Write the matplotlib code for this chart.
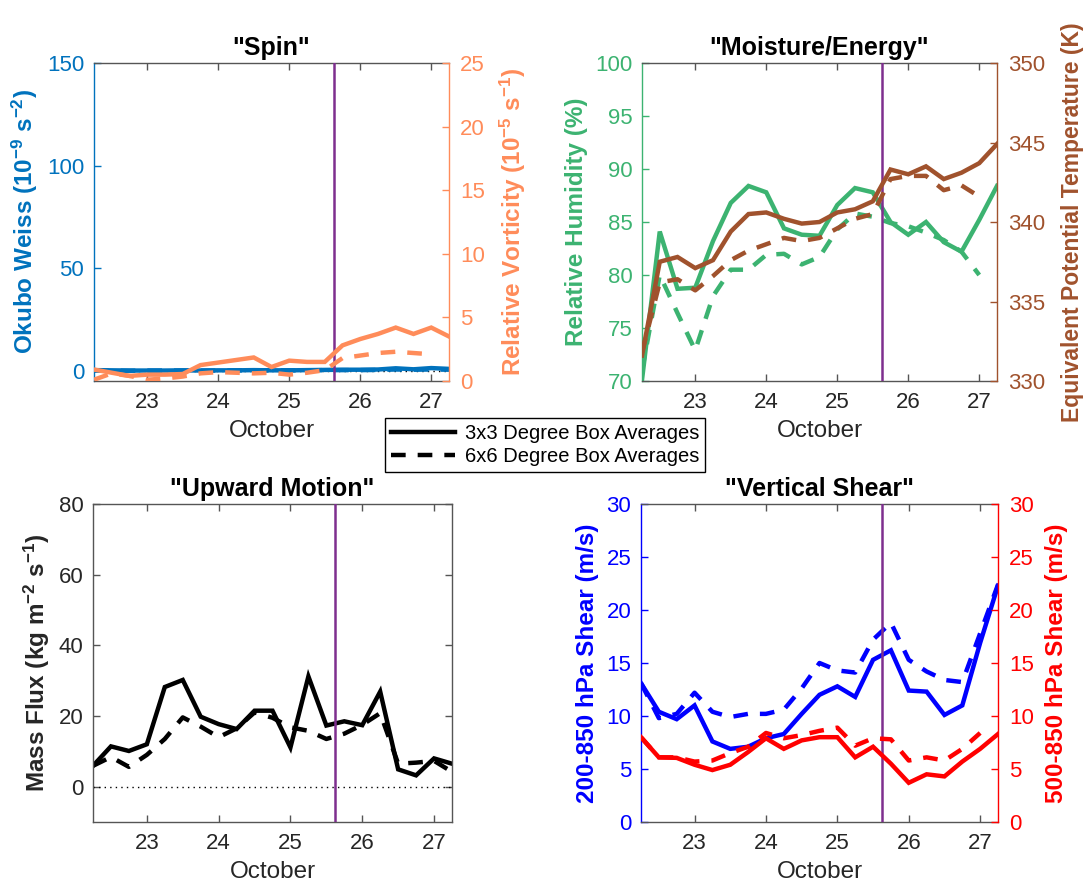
"""Four-panel time series of box-averaged storm diagnostics, 22-27 October."""
import matplotlib
matplotlib.use("Agg")
import matplotlib.pyplot as plt
from matplotlib.lines import Line2D
import numpy as np

plt.rcParams.update({
    "font.family": "Liberation Sans",
    "mathtext.fontset": "custom",
    "mathtext.rm": "Liberation Sans:bold",
    "mathtext.default": "rm",
})

# 6-hourly analysis times (day of October, UTC)
days = [22.25, 22.5, 22.75, 23.0, 23.25, 23.5, 23.75, 24.0, 24.25, 24.5, 24.75,
        25.0, 25.25, 25.5, 25.75, 26.0, 26.25, 26.5, 26.75, 27.0, 27.25]
genesis_day = 25.625

# "Spin"
okubo_3x3 = [0.3, 0.2, 0.1, 0.1, 0.1, 0.2, 0.1, 0.2, 0.2, 0.3, 0.2,
             0.2, 0.3, 0.4, 0.5, 0.5, 0.6, 1.2, 0.7, 1.3, 0.9]
okubo_6x6 = [0.1, 0.1, 0.0, 0.1, 0.1, 0.1, 0.1, 0.1, 0.2, 0.2, 0.2,
             0.2, 0.2, 0.3, 0.3, 0.3, 0.4, 0.6, 0.5, 0.6, 0.5]
vort_3x3 = [0.9, 0.65, 0.4, 0.5, 0.5, 0.55, 1.25, 1.45, 1.65, 1.85, 1.1,
            1.6, 1.5, 1.5, 2.8, 3.3, 3.7, 4.2, 3.7, 4.2, 3.5]
vort_6x6 = [0.1, 0.6, 0.4, 0.1, 0.2, 0.35, 0.6, 0.7, 0.65, 0.6, 0.65,
            0.5, 0.65, 0.85, 1.8, 2.0, 2.2, 2.3, 2.2, 2.1, np.nan]

# "Moisture/Energy"
rh_3x3 = [70.1, 84.1, 78.7, 78.8, 83.2, 86.8, 88.4, 87.8, 84.4, 83.8, 83.7,
          86.6, 88.2, 87.8, 85.0, 83.8, 85.0, 83.1, 82.2, 85.2, 88.4]
rh_6x6 = [71.0, 80.0, 76.4, 72.9, 78.0, 80.5, 80.5, 81.9, 82.0, 81.0, 81.7,
          84.3, 85.8, 85.5, 84.9, 84.6, 84.0, 83.3, 82.2, 80.0, np.nan]
thetae_3x3 = [331.6, 337.5, 337.8, 337.1, 337.6, 339.4, 340.5, 340.6, 340.2,
              339.9, 340.0, 340.6, 340.8, 341.3, 343.3, 343.0, 343.5, 342.7,
              343.1, 343.7, 344.9]
thetae_6x6 = [331.8, 336.2, 336.4, 335.7, 336.6, 337.6, 338.2, 338.6, 339.0,
              338.8, 339.0, 339.6, 340.2, 340.5, 342.7, 342.9, 342.9, 342.0,
              342.3, 341.6, np.nan]

# "Upward Motion"
mflux_3x3 = [5.9, 11.4, 10.1, 12.0, 28.2, 30.2, 19.8, 17.7, 16.3, 21.5, 21.5,
             11.1, 31.2, 17.3, 18.5, 17.4, 26.9, 4.9, 3.2, 8.0, 6.5]
mflux_6x6 = [5.9, 8.4, 5.6, 9.0, 13.5, 19.6, 17.0, 14.0, 16.5, 21.0, 19.5,
             16.8, 15.8, 13.5, 15.0, 17.5, 20.8, 6.5, 6.8, 7.3, 4.2]

# "Vertical Shear"
shear_200_3x3 = [13.1, 10.4, 9.7, 11.0, 7.6, 6.9, 7.1, 7.9, 8.3, 10.2, 12.0,
                 12.8, 11.8, 15.3, 16.2, 12.4, 12.3, 10.1, 11.0, 16.9, 22.3]
shear_200_6x6 = [13.1, 9.8, 10.2, 12.2, 10.4, 9.9, 10.2, 10.2, 10.6, 12.6, 15.0,
                 14.3, 14.1, 17.2, 18.8, 15.3, 14.2, 13.4, 13.2, 17.8, 22.4]
shear_500_3x3 = [8.0, 6.1, 6.05, 5.4, 4.9, 5.4, 6.6, 7.9, 6.9, 7.7, 8.0,
                 8.0, 6.1, 7.1, 5.5, 3.7, 4.5, 4.3, 5.7, 6.9, 8.3]
shear_500_6x6 = [8.0, 6.1, 6.1, 5.7, 5.8, 6.5, 7.1, 8.4, 7.9, 8.2, 8.6,
                 8.9, 7.2, 7.9, 7.8, 5.8, 6.1, 5.8, 6.9, 8.4, np.nan]

C_OW = "#0072BD"
C_VORT = "#FF8C5A"
C_RH = "#3CB371"
C_THE = "#A0522D"
C_LINE = "#7E2F8E"
AX_GRAY = "#555555"
TXT_GRAY = "#262626"

LW = 3.2
DASH = (3.3, 2.7)
TICK_FS = 16
LABEL_FS = 17.5
TITLE_FS = 18


def _plot_pair(ax, solid, dashed, color):
    ax.plot(days, solid, color=color, lw=LW, solid_joinstyle="miter")
    ax.plot(days, dashed, color=color, lw=LW, ls=(0, DASH))


def _dress(ax, title, left_color=TXT_GRAY, spine_color=AX_GRAY, both_sides=False):
    ax.set_xlim(22.25, 27.25)
    ax.set_xticks([23, 24, 25, 26, 27])
    ax.set_xlabel("October", fontsize=LABEL_FS, color=TXT_GRAY, labelpad=5)
    ax.set_title(title, fontsize=TITLE_FS, fontweight="bold", pad=6)
    ax.tick_params(axis="x", direction="in", top=True, length=5, width=1,
                   color=AX_GRAY, labelsize=TICK_FS, labelcolor=TXT_GRAY, pad=8)
    ax.tick_params(axis="y", direction="in", length=5, width=1,
                   color=spine_color, labelsize=TICK_FS, labelcolor=left_color,
                   right=both_sides, pad=7)
    for side in ("top", "bottom", "right"):
        ax.spines[side].set_color(AX_GRAY)
        ax.spines[side].set_linewidth(1)
    ax.spines["left"].set_color(spine_color)
    ax.spines["left"].set_linewidth(1)
    if not both_sides:
        ax.spines["right"].set_visible(False)
    ax.axvline(genesis_day, color=C_LINE, lw=1.8, zorder=5)


def _right(ax, color):
    tw = ax.twinx()
    tw.set_xlim(ax.get_xlim())
    for side in ("top", "bottom", "left"):
        tw.spines[side].set_visible(False)
    tw.spines["right"].set_color(color)
    tw.spines["right"].set_linewidth(1)
    tw.tick_params(axis="y", direction="in", length=5, width=1, color=color,
                   labelsize=TICK_FS, labelcolor=color, pad=8)
    return tw


fig = plt.figure(figsize=(10.83, 8.88), dpi=100)
ax_spin = fig.add_axes([94 / 1083, 1 - 381 / 888, 355 / 1083, 318 / 888])
ax_moist = fig.add_axes([642 / 1083, 1 - 381 / 888, 355 / 1083, 318 / 888])
ax_up = fig.add_axes([93 / 1083, 1 - 822 / 888, 359 / 1083, 318 / 888])
ax_shear = fig.add_axes([641 / 1083, 1 - 822 / 888, 357 / 1083, 318 / 888])

# --- Spin ---
_dress(ax_spin, '"Spin"', left_color=C_OW, spine_color=C_OW)
ax_spin.axhline(0, color="k", ls=(0, (1, 3)), lw=1)
_plot_pair(ax_spin, okubo_3x3, okubo_6x6, C_OW)
ax_spin.set_ylim(-5, 150)
ax_spin.set_yticks([0, 50, 100, 150])
ax_spin.set_ylabel(r"Okubo Weiss (10$^{-9}$ s$^{-2}$)", color=C_OW,
                   fontsize=LABEL_FS, fontweight="bold", labelpad=5)
tw = _right(ax_spin, C_VORT)
_plot_pair(tw, vort_3x3, vort_6x6, C_VORT)
tw.set_ylim(0, 25)
tw.set_yticks([0, 5, 10, 15, 20, 25])
tw.set_ylabel(r"Relative Vorticity (10$^{-5}$ s$^{-1}$)", color=C_VORT,
              fontsize=LABEL_FS, fontweight="bold", rotation=90, labelpad=9)

# --- Moisture/Energy ---
_dress(ax_moist, '"Moisture/Energy"', left_color=C_RH, spine_color=C_RH)
_plot_pair(ax_moist, rh_3x3, rh_6x6, C_RH)
ax_moist.set_ylim(70, 100)
ax_moist.set_yticks([70, 75, 80, 85, 90, 95, 100])
ax_moist.set_ylabel("Relative Humidity (%)", color=C_RH, fontsize=LABEL_FS,
                    fontweight="bold", labelpad=5)
tw = _right(ax_moist, C_THE)
_plot_pair(tw, thetae_3x3, thetae_6x6, C_THE)
tw.set_ylim(330, 350)
tw.set_yticks([330, 335, 340, 345, 350])
tw.set_ylabel("Equivalent Potential Temperature (K)", color=C_THE,
              fontsize=16.5, fontweight="bold", rotation=90, labelpad=11)

# --- Upward Motion ---
_dress(ax_up, '"Upward Motion"', both_sides=True)
ax_up.axhline(0, color="k", ls=(0, (1, 3)), lw=1)
_plot_pair(ax_up, mflux_3x3, mflux_6x6, "k")
ax_up.set_ylim(-10, 80)
ax_up.set_yticks([0, 20, 40, 60, 80])
ax_up.set_ylabel(r"Mass Flux (kg m$^{-2}$ s$^{-1}$)", color=TXT_GRAY,
                 fontsize=LABEL_FS, fontweight="bold", labelpad=5)

# --- Vertical Shear ---
_dress(ax_shear, '"Vertical Shear"', left_color="b", spine_color="b")
_plot_pair(ax_shear, shear_200_3x3, shear_200_6x6, "b")
ax_shear.set_ylim(0, 30)
ax_shear.set_yticks([0, 5, 10, 15, 20, 25, 30])
ax_shear.set_ylabel("200-850 hPa Shear (m/s)", color="b", fontsize=LABEL_FS,
                    fontweight="bold", labelpad=5)
tw = _right(ax_shear, "r")
_plot_pair(tw, shear_500_3x3, shear_500_6x6, "r")
tw.set_ylim(0, 30)
tw.set_yticks([0, 5, 10, 15, 20, 25, 30])
tw.set_ylabel("500-850 hPa Shear (m/s)", color="r", fontsize=LABEL_FS,
              fontweight="bold", rotation=90, labelpad=8)

handles = [Line2D([], [], color="k", lw=LW),
           Line2D([], [], color="k", lw=LW, ls=(0, DASH))]
leg = fig.legend(handles, ["3x3 Degree Box Averages", "6x6 Degree Box Averages"],
                 loc="center", bbox_to_anchor=(545 / 1083, 1 - 445 / 888),
                 fontsize=14.5, frameon=True, fancybox=False, framealpha=1,
                 handlelength=3.2, handletextpad=0.5, borderpad=0.3,
                 labelspacing=0.2)
leg.get_frame().set_edgecolor("k")
leg.get_frame().set_linewidth(1)

fig.savefig("out.png", dpi=100, facecolor="white")
